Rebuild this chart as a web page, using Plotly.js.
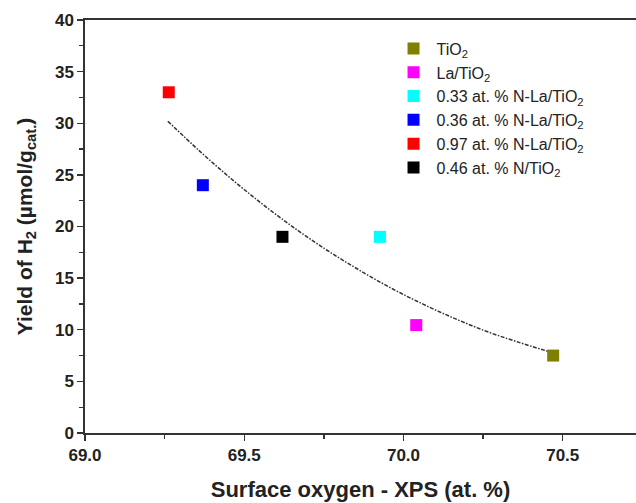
<!DOCTYPE html>
<html>
<head>
<meta charset="utf-8">
<script src="https://cdn.plot.ly/plotly-3.0.1.min.js"></script>
<style>html,body{margin:0;padding:0;background:#fff;}#chart{width:636px;height:503px;}</style>
</head>
<body>
<div id="chart"></div>
<script>
// Samples (legend order)
const sampleNames = ["TiO<sub>2</sub>", "La/TiO<sub>2</sub>", "0.33 at. % N-La/TiO<sub>2</sub>",
  "0.36 at. % N-La/TiO<sub>2</sub>", "0.97 at. % N-La/TiO<sub>2</sub>", "0.46 at. % N/TiO<sub>2</sub>"];
const surfaceOxygen = [70.47, 70.04, 69.926, 69.37, 69.263, 69.62];
const yieldH2 = [7.5, 10.45, 19.0, 24.0, 33.0, 19.0];
const sampleColors = ["#808000", "#ff00ff", "#00ffff", "#0000ff", "#ff0000", "#000000"];

// Fitted trend curve
const fitX = [69.26, 69.36, 69.46, 69.56, 69.66, 69.76, 69.86, 69.96, 70.06, 70.16, 70.26, 70.36, 70.46];
const fitY = [30.2, 27.3, 24.6, 22.1, 19.8, 17.7, 15.8, 14.05, 12.5, 11.1, 9.85, 8.8, 7.85];

const FONT = "Liberation Sans, Arial, sans-serif";

const traces = [{
  x: fitX, y: fitY, type: "scatter", mode: "lines", line: {shape: "spline", color: "#333", width: 1.5, dash: "4px,1.5px,1.5px,1.5px"},
  showlegend: false, hoverinfo: "skip"
}];
for (let i = 0; i < sampleNames.length; i++) {
  traces.push({
    x: [surfaceOxygen[i]], y: [yieldH2[i]], type: "scatter", mode: "markers", name: sampleNames[i],
    marker: {symbol: "square", size: 12, color: sampleColors[i], line: {width: 0}}
  });
}

const axisCommon = {
  showline: true, linecolor: "#333", linewidth: 1.6, mirror: true, showgrid: false, zeroline: false,
  ticks: "outside", ticklen: 6, tickwidth: 1.3, tickcolor: "#333",
  tickfont: {family: FONT, size: 17, color: "#222", weight: "bold"}
};

const layout = {
  width: 636, height: 503,
  margin: {l: 85, r: 0, t: 20, b: 70},
  paper_bgcolor: "#fff", plot_bgcolor: "#fff",
  font: {family: FONT, color: "#222"},
  xaxis: Object.assign({}, axisCommon, {
    range: [69.0, 70.73], tickvals: [69.0, 69.5, 70.0, 70.5], ticktext: ["69.0", "69.5", "70.0", "70.5"],
    minor: {tickvals: [69.25, 69.75, 70.25], ticks: "outside", ticklen: 4, tickwidth: 1.3, tickcolor: "#333"},
    title: {text: "Surface oxygen - XPS (at. %)", font: {family: FONT, size: 22, color: "#222", weight: "bold"}, standoff: 17}
  }),
  yaxis: Object.assign({}, axisCommon, {
    range: [0, 40], tickvals: [0, 5, 10, 15, 20, 25, 30, 35, 40],
    minor: {tickvals: [2.5, 7.5, 12.5, 17.5, 22.5, 27.5, 32.5, 37.5], ticks: "outside", ticklen: 4, tickwidth: 1.3, tickcolor: "#333"},
    title: {text: "Yield of H<sub>2</sub> (µmol/g<sub>cat.</sub>)", font: {family: FONT, size: 21, color: "#222", weight: "bold"}, standoff: 17}
  }),
  legend: {x: 0.5545, y: 0.972, xanchor: "left", yanchor: "top", bgcolor: "rgba(0,0,0,0)",
    font: {family: FONT, size: 16, color: "#222"}, itemwidth: 36},
  showlegend: true
};

Plotly.newPlot("chart", traces, layout, {displayModeBar: false, staticPlot: true});
</script>
</body>
</html>
